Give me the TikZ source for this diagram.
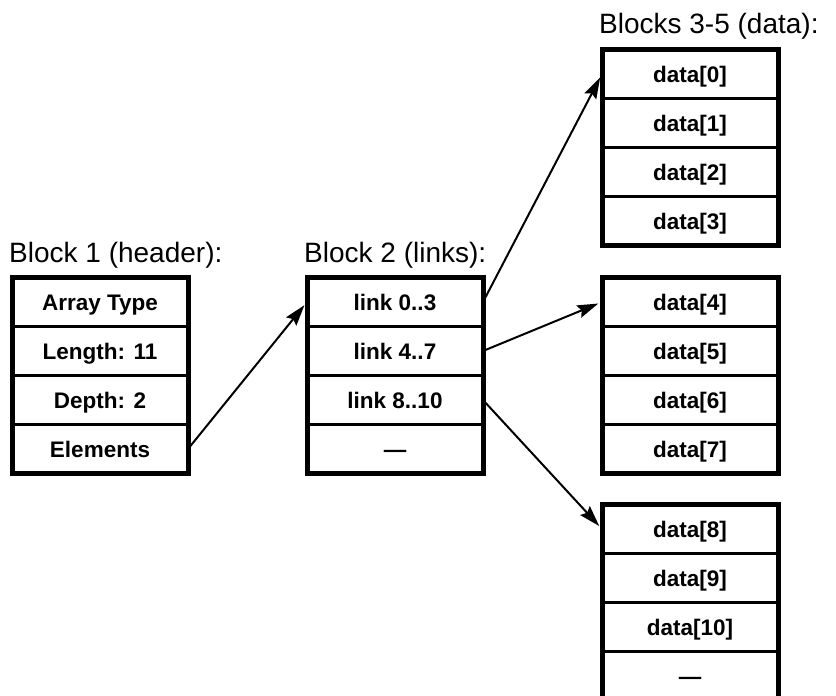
\documentclass[tikz,border=0pt]{standalone}
\usepackage{fontspec}
\setmainfont{Liberation Sans}
\usetikzlibrary{positioning, arrows.meta}

\begin{document}
\begin{tikzpicture}[x=1pt, y=1pt,
    cell/.style={draw, line width=2.5pt, outer sep=0pt, inner sep=0pt,
      minimum width=176pt, minimum height=49pt,
      text height=16pt, text depth=0pt,
      font=\fontsize{22.5}{26}\selectfont\bfseries},
    frame/.style={draw, line width=5pt},
    blocklabel/.style={font=\fontsize{28}{32}\selectfont, inner sep=0pt,
      anchor=base west, xshift=-3pt},
    link/.style={-{Stealth[length=21pt, width=13pt, inset=3pt]},
      line width=2pt, shorten <=3pt, shorten >=4pt},
  ]
    \useasboundingbox (0,0) rectangle (836,-696);

    \node[cell] (h1) at (100, -302) {Array Type};
    \node[cell, below=0pt of h1] (h2) {Length: 11};
    \node[cell, below=0pt of h2] (h3) {Depth: 2};
    \node[cell, below=0pt of h3] (h4) {Elements};
    \draw[frame] (h1.north west) rectangle (h4.south east);
    \node[blocklabel, above=15.5pt of h1.north west, anchor=base west] (hl) {Block 1 (header):};

    \node[cell] (l1) at (395, -302) {link 0..3};
    \node[cell, below=0pt of l1] (l2) {link 4..7};
    \node[cell, below=0pt of l2] (l3) {link 8..10};
    \node[cell, below=0pt of l3] (l4) {—};
    \draw[frame] (l1.north west) rectangle (l4.south east);
    \node[blocklabel, above=15.5pt of l1.north west, anchor=base west] (ll) {Block 2 (links):};

    \node[cell] (d0) at (690, -74) {data[0]};
    \node[cell, below=0pt of d0] (d1) {data[1]};
    \node[cell, below=0pt of d1] (d2) {data[2]};
    \node[cell, below=0pt of d2] (d3) {data[3]};
    \draw[frame] (d0.north west) rectangle (d3.south east);
    \node[blocklabel, above=16pt of d0.north west, anchor=base west] (dl) {Blocks 3-5 (data):};

    \node[cell] (d4) at (690, -302) {data[4]};
    \node[cell, below=0pt of d4] (d5) {data[5]};
    \node[cell, below=0pt of d5] (d6) {data[6]};
    \node[cell, below=0pt of d6] (d7) {data[7]};
    \draw[frame] (d4.north west) rectangle (d7.south east);

    \node[cell] (d8) at (690, -529) {data[8]};
    \node[cell, below=0pt of d8] (d9) {data[9]};
    \node[cell, below=0pt of d9] (d10) {data[10]};
    \node[cell, below=0pt of d10] (d11) {—};
    \draw[frame] (d8.north west) rectangle (d11.south east);

    \draw[link] (h4.east) -- (l1.west);
    \draw[link] (l1.east) -- (d0.west);
    \draw[link] (l2.east) -- (d4.west);
    \draw[link] (l3.east) -- (d8.west);
  \end{tikzpicture}
\end{document}
